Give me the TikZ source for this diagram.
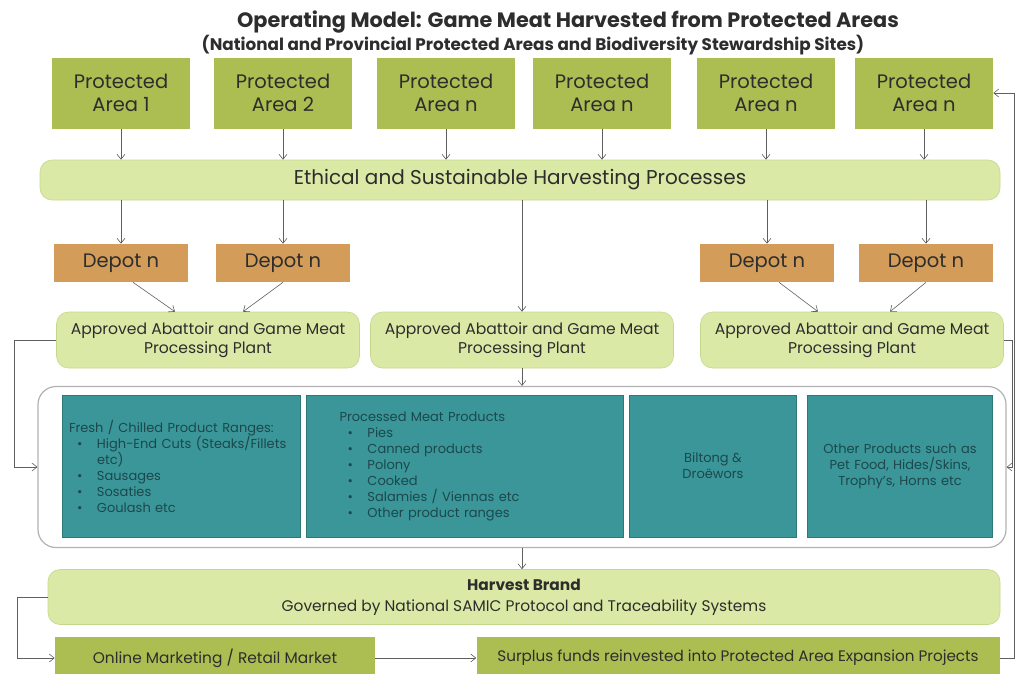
\documentclass[tikz,border=0pt]{standalone}
\usepackage{fontspec}
\setmainfont{Poppins}
\usepackage{tikz}
\usetikzlibrary{arrows.meta,positioning}
\definecolor{AreaGreen}{RGB}{172,189,82}
\definecolor{BarGreen}{RGB}{218,234,166}
\definecolor{BarEdge}{RGB}{196,216,140}
\definecolor{DepotTan}{RGB}{211,156,88}
\definecolor{ProdTeal}{RGB}{58,150,152}
\definecolor{ProdText}{RGB}{28,72,76}
\definecolor{InkGrey}{RGB}{45,45,45}
\definecolor{LineGrey}{RGB}{95,95,95}
\newcommand{\pbul}{\hspace*{8pt}\makebox[20pt][l]{\textbullet}}

\begin{document}
\begin{tikzpicture}[x=1pt,y=-1pt,>={Straight Barb[length=5pt,width=8pt]},semithick,
  every node/.style={text=InkGrey},
  tile/.style={fill=AreaGreen,align=center},
  area/.style={tile,minimum width=138pt,minimum height=71pt,font=\fontsize{19.5}{23}\selectfont},
  bar/.style={fill=BarGreen,draw=BarEdge,rounded corners=12pt,align=center},
  depot/.style={fill=DepotTan,minimum width=134pt,minimum height=38pt,font=\fontsize{19.5}{22}\selectfont},
  plant/.style={bar,minimum width=303pt,minimum height=56pt,font=\fontsize{15.6}{19}\selectfont},
  prod/.style={fill=ProdTeal,draw=ProdTeal!80!black,minimum height=142pt,text=ProdText,font=\fontsize{13}{16}\selectfont},
  link/.style={->,draw=LineGrey}]
\clip (0,0) rectangle (1017,673);

\node[font=\bfseries\fontsize{20.8}{24}\selectfont] (title) at (568,22) {Operating Model: Game Meat Harvested from Protected Areas};
\node[font=\bfseries\fontsize{16.8}{19}\selectfont] (subtitle) at (533,45) {(National and Provincial Protected Areas and Biodiversity Stewardship Sites)};

\node[area] (PA1) at (121,93) {Protected\\Area 1};
\node[area] (PA2) at (283,93) {Protected\\Area 2};
\node[area] (PA3) at (446,93) {Protected\\Area n};
\node[area] (PA4) at (602,93) {Protected\\Area n};
\node[area] (PA5) at (766,93) {Protected\\Area n};
\node[area] (PA6) at (924,93) {Protected\\Area n};

\node[bar,minimum width=960pt,minimum height=40pt,font=\fontsize{20}{23}\selectfont] (harvest) at (520,180) {Ethical and Sustainable Harvesting Processes};
\draw[link] (PA1) -- (PA1 |- harvest.north);
\draw[link] (PA2) -- (PA2 |- harvest.north);
\draw[link] (PA3) -- (PA3 |- harvest.north);
\draw[link] (PA4) -- (PA4 |- harvest.north);
\draw[link] (PA5) -- (PA5 |- harvest.north);
\draw[link] (PA6) -- (PA6 |- harvest.north);

\node[depot] (D1) at (121,263) {Depot n};
\node[depot] (D2) at (283,263) {Depot n};
\node[depot] (D3) at (767,263) {Depot n};
\node[depot] (D4) at (926,263) {Depot n};
\draw[link] (harvest.south -| D1) -- (D1);
\draw[link] (harvest.south -| D2) -- (D2);
\draw[link] (harvest.south -| D3) -- (D3);
\draw[link] (harvest.south -| D4) -- (D4);

\node[plant] (AB1) at (208,340) {Approved Abattoir and Game Meat\\Processing Plant};
\node[plant] (AB2) at (522,340) {Approved Abattoir and Game Meat\\Processing Plant};
\node[plant] (AB3) at (852,340) {Approved Abattoir and Game Meat\\Processing Plant};
\draw[link] ([xshift=12pt]D1.south) -- ([xshift=-33pt]AB1.north);
\draw[link] (D2.south) -- ([xshift=35pt]AB1.north);
\draw[link] ([xshift=12pt]D3.south) -- ([xshift=-34pt]AB3.north);
\draw[link] (D4.south) -- ([xshift=38pt]AB3.north);
\draw[link] (harvest.south -| AB2) -- (AB2);

\node[draw=gray!60,line width=1.2pt,rounded corners=18pt,minimum width=968pt,minimum height=161pt] (range) at (522,467) {};
\node[prod,text width=224pt,inner xsep=7pt,align=left] (fresh) at (181,466) {Fresh / Chilled Product Ranges:\\\pbul High-End Cuts (Steaks/Fillets\\\hspace*{28pt}etc)\\\pbul Sausages\\\pbul Sosaties\\\pbul Goulash etc};
\node[prod,text width=251pt,inner xsep=33pt,align=left] (processed) at (465,466) {Processed Meat Products\\\pbul Pies\\\pbul Canned products\\\pbul Polony\\\pbul Cooked\\\pbul Salamies / Viennas etc\\\pbul Other product ranges};
\node[prod,minimum width=167pt,align=center] (biltong) at (713,466) {Biltong \&\\Droëwors};
\node[prod,text width=171pt,inner xsep=7pt,align=center] (other) at (900,466) {Other Products such as\\Pet Food, Hides/Skins,\\Trophy's, Horns etc};
\draw[link] (AB2) -- (AB2 |- range.north);
\draw[link] (AB1.west) -- ++(-42,0) |- (range.west);
\draw[link] (AB3.east) -- ++(8,0) |- (range.east);

\node[bar,minimum width=952pt,minimum height=55pt,font=\fontsize{15.4}{21}\selectfont] (brand) at (524,597) {{\bfseries Harvest Brand}\\Governed by National SAMIC Protocol and Traceability Systems};
\draw[link] (range.south -| AB2) -- (brand.north -| AB2);

\node[tile,minimum width=320pt,minimum height=42pt,font=\fontsize{15.4}{18}\selectfont] (online) at (215,658) {Online Marketing / Retail Market};
\node[tile,minimum width=523pt,minimum height=42pt,font=\fontsize{15.2}{18}\selectfont] (surplus) at (738,658) {Surplus funds reinvested into Protected Area Expansion Projects};
\coordinate (edge) at (1014,0);
\draw[link] (brand.west) -- ++(-30,0) |- (online.west);
\draw[link] (online) -- (surplus);
\draw[link] (surplus.east) -- (surplus.east -| edge) -- (edge |- PA6.east) -- (PA6.east);
\end{tikzpicture}
\end{document}
